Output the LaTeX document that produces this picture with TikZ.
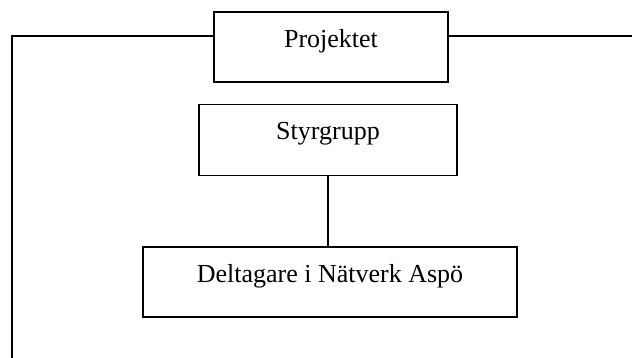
\documentclass[tikz,border=0pt]{standalone}
\usepackage{fontspec}
\setmainfont{Liberation Serif}
\begin{document}
\begin{tikzpicture}[x=1pt,y=-1pt,line width=1.5pt,
  orgbox/.style={draw,rectangle,inner sep=0pt,text height=35pt,text depth=35pt,
    font=\fontsize{26}{30}\selectfont}]
\useasboundingbox (0,0) rectangle (632,357);
\node[orgbox,minimum width=234pt] (proj) at (331,47) {Projektet};
\node[orgbox,minimum width=258pt,text depth=36pt] (styr) at (328,140) {Styrgrupp};
\node[orgbox,minimum width=374pt] (delt) at (330,282) {Deltagare i Nätverk Aspö};
\coordinate (L) at (12,36);
\coordinate (Lb) at (12,358);
\coordinate (R) at (633,36);
\draw (proj.west |- L) -- (L) -- (Lb);
\draw (proj.east |- R) -- (R);
\draw (styr.south) -- (styr.south |- delt.north);
\end{tikzpicture}
\end{document}
